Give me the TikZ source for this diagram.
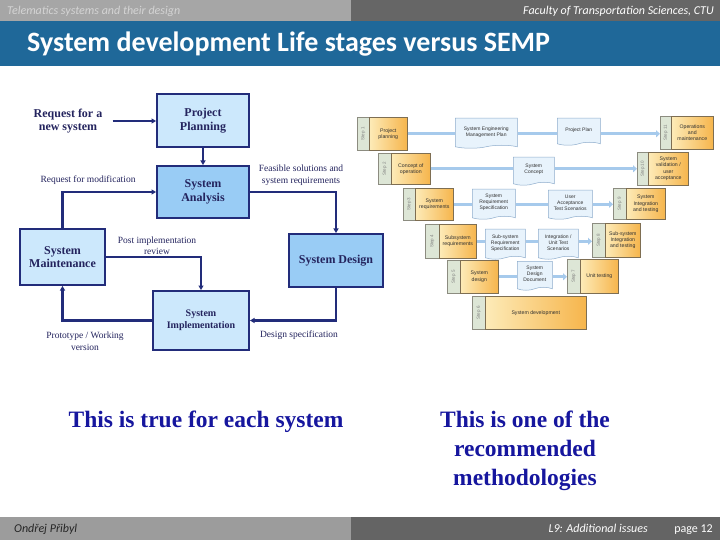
\documentclass[tikz,border=0pt]{standalone}
\usepackage{fontspec}
\setmainfont{Liberation Serif}
\newfontfamily\calib{Carlito}
\newfontfamily\vsans{Liberation Sans}
\usetikzlibrary{shapes.symbols,arrows.meta}
\definecolor{hdrL}{HTML}{A6A6A6}
\definecolor{hdrR}{HTML}{666666}
\definecolor{hdrTxt}{HTML}{D4D4D4}
\definecolor{ftrL}{HTML}{9C9C9C}
\definecolor{ftrR}{HTML}{646464}
\definecolor{titleblue}{HTML}{1F6899}
\definecolor{navy}{HTML}{222C7A}
\definecolor{navytxt}{HTML}{24245E}
\definecolor{bigblue}{HTML}{16169E}
\definecolor{boxlight}{HTML}{CCE8FC}
\definecolor{boxdark}{HTML}{99CCF5}
\definecolor{vlinec}{HTML}{A6CAEC}
\definecolor{vtabfill}{HTML}{DDE6D6}
\definecolor{vtabdraw}{HTML}{8C8C80}
\definecolor{orL}{HTML}{FDEBB8}
\definecolor{orR}{HTML}{F6B54C}
\definecolor{orDraw}{HTML}{7E6E52}
\definecolor{docfill}{HTML}{E8F3FC}
\definecolor{docdraw}{HTML}{8EADCC}
\definecolor{vtxt}{HTML}{303030}
\tikzset{
 lbox/.style={draw=navy, line width=2pt, fill=boxlight, text=navytxt, font=\fontsize{12}{13.5}\selectfont\bfseries, align=center, inner sep=0pt},
 dbox/.style={lbox, fill=boxdark},
 lab/.style={text=navytxt, font=\fontsize{9.5}{11.5}\selectfont, align=center, inner sep=1pt},
 conn/.style={draw=navy, line width=2.2pt, -{Triangle[length=4.5pt,width=5pt]}},
 vtab/.style={draw=vtabdraw, fill=vtabfill, line width=0.5pt, inner sep=0pt, text=gray, font=\vsans\fontsize{4.5}{5}\selectfont},
 vbox/.style={draw=orDraw, left color=orL, right color=orR, line width=0.6pt, inner sep=0pt, align=center, text=vtxt, font=\vsans\fontsize{5.2}{6.2}\selectfont},
 vdoc/.style={shape=tape, tape bend top=none, tape bend height=3pt, draw=docdraw, fill=docfill, line width=0.5pt, inner sep=0pt, align=center, text=vtxt, font=\vsans\fontsize{5}{6}\selectfont},
 vcon/.style={draw=vlinec, line width=3.2pt},
 vcona/.style={vcon, -{Triangle[length=4pt,width=7pt]}},
 bigtxt/.style={text=bigblue, font=\fontsize{23.5}{29}\selectfont\bfseries, align=center},
 hdr/.style={inner sep=0pt, font=\calib\itshape\fontsize{12}{13}\selectfont},
}
\newcommand\vstepnode[8]{%
 \node[vtab, anchor=north west, minimum width=#3-#2, minimum height=#6-#5] (#1t) at (#2,#5) {\rotatebox{90}{#7}};
 \node[vbox, anchor=north west, minimum width=#4-#3, minimum height=#6-#5] (#1) at (#3,#5) {#8};}
\newcommand\vdocnode[6]{%
 \node[vdoc, anchor=north west, minimum width=#3-#2, minimum height=#5-#4] (#1) at (#2,#4) {#6};}
\begin{document}
\begin{tikzpicture}[x=1pt,y=-1pt]
\useasboundingbox (0,0) rectangle (720,540);
\fill[white] (0,0) rectangle (720,540);
% header
\fill[hdrL] (0,0) rectangle (351,21);
\fill[hdrR] (351,0) rectangle (720,21);
\fill[titleblue] (0,21) rectangle (720,66);
\node[hdr, anchor=base west, text=hdrTxt] (h1) at (7,14.5) {Telematics systems and their design};
\node[hdr, anchor=base east, text=white] (h2) at (714,14.5) {Faculty of Transportation Sciences, CTU};
\node[anchor=west, inner sep=0pt, font=\calib\bfseries\fontsize{28}{30}\selectfont, text=white] (title) at (27,44) {System development Life stages versus SEMP};
% footer
\fill[ftrL] (0,517) rectangle (351,540);
\fill[ftrR] (351,517) rectangle (720,540);
\node[hdr, anchor=base west, text=black!85] (f1) at (14,532.5) {Ondřej Přibyl};
\node[hdr, anchor=base east, text=white] (f2) at (648,532.5) {L9: Additional issues};
\node[hdr, anchor=base east, font=\calib\fontsize{12}{13}\selectfont, text=white] (f3) at (713,532.5) {page 12};
% left diagram
\node[lbox, minimum width=92, minimum height=53] (PP) at (203,120.5) {Project\\Planning};
\node[dbox, minimum width=92, minimum height=52] (SA) at (203,192) {System\\Analysis};
\node[dbox, minimum width=94, minimum height=53] (SD) at (336,260.5) {System Design};
\node[lbox, minimum width=85, minimum height=56] (SM) at (62.5,257) {System\\Maintenance};
\node[lbox, minimum width=96, minimum height=59, font=\fontsize{10}{12}\selectfont\bfseries] (SI) at (201,320.5) {System\\Implementation};
\node[text=navytxt, font=\fontsize{12}{13.5}\selectfont\bfseries, align=center, inner sep=0pt] (req) at (68,121) {Request for a\\new system};
\draw[conn] ([xshift=10pt]req.east) -- (PP.west |- req.east);
\draw[conn] (PP.south) -- (SA.north);
\draw[conn] (SM.north) |- (SA.west);
\draw[conn] (SA.east) -| (SD.north);
\draw[conn] (SM.east) -| (SI.north);
\draw[conn] (SD.south) |- (SI.east);
\draw[conn] (SI.west) -| (SM.south);
\node[lab] (l1) at (88,180) {Request for modification};
\node[lab] (l2) at (301,175) {Feasible solutions and\\system requirements};
\node[lab] (l3) at (157,246) {Post implementation\\review};
\node[lab] (l4) at (85,341) {Prototype / Working\\version};
\node[lab] (l5) at (299,335) {Design specification};
% bottom texts
\node[bigtxt] (t1) at (206,422) {This is true for each system};
\node[bigtxt] (t2) at (525,451) {This is one of the\\recommended\\methodologies};
% V model
\vstepnode{S1}{357}{369}{407}{117}{150}{Step 1}{Project\\planning}
\vstepnode{S2}{378}{391}{430}{153}{184}{Step 2}{Concept of\\operation}
\vstepnode{S3}{403}{415}{453}{188}{220}{Step 3}{System\\requirements}
\vstepnode{S4}{425}{439}{476}{224}{258}{Step 4}{Subsystem\\requirements}
\vstepnode{S5}{447}{460}{498}{260}{293}{Step 5}{System\\design}
\vstepnode{S6}{472}{485}{586}{296}{329}{Step 6}{System development}
\vstepnode{S7}{567}{580}{618}{259}{293}{Step 7}{Unit testing}
\vstepnode{S8}{592}{605}{640}{223}{257}{Step 8}{Sub-system\\Integration\\and testing}
\vstepnode{S9}{613}{626}{665}{188}{219}{Step 9}{System\\Integration\\and testing}
\vstepnode{S10}{637}{648}{688}{152}{185}{Step 10}{System\\validation /\\user\\acceptance}
\vstepnode{S11}{660}{671}{713}{116}{149}{Step 11}{Operations\\and\\maintenance}
\vdocnode{D1}{455}{517}{118}{148}{System Engineering\\Management Plan}
\vdocnode{D2}{557}{600}{118}{145}{Project Plan}
\vdocnode{D3}{513}{554}{157}{185}{System\\Concept}
\vdocnode{D4}{472}{515}{189}{219}{System\\Requirement\\Specification}
\vdocnode{D5}{548}{592}{190}{219}{User\\Acceptance\\Test Scenarios}
\vdocnode{D6}{485}{525}{229}{259}{Sub-system\\Requirement\\Specification}
\vdocnode{D7}{538}{578}{229}{259}{Integration /\\Unit Test\\Scenarios}
\vdocnode{D8}{517}{552}{261}{290}{System\\Design\\Document}
\draw[vcon] (S1.east) -- (S1.east -| D1.west);
\draw[vcon] (S1.east -| D1.east) -- (S1.east -| D2.west);
\draw[vcona] (S1.east -| D2.east) -- (S1.east -| S11t.west);
\draw[vcon] (S2.east) -- (S2.east -| D3.west);
\draw[vcona] (S2.east -| D3.east) -- (S2.east -| S10t.west);
\draw[vcon] (S3.east) -- (S3.east -| D4.west);
\draw[vcon] (S3.east -| D4.east) -- (S3.east -| D5.west);
\draw[vcona] (S3.east -| D5.east) -- (S3.east -| S9t.west);
\draw[vcon] (S4.east) -- (S4.east -| D6.west);
\draw[vcon] (S4.east -| D6.east) -- (S4.east -| D7.west);
\draw[vcona] (S4.east -| D7.east) -- (S4.east -| S8t.west);
\draw[vcon] (S5.east) -- (S5.east -| D8.west);
\draw[vcona] (S5.east -| D8.east) -- (S5.east -| S7t.west);
\end{tikzpicture}
\end{document}
